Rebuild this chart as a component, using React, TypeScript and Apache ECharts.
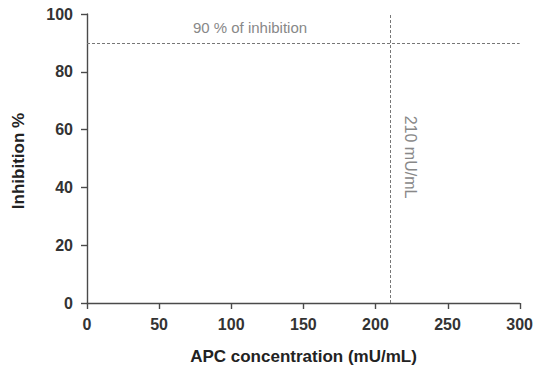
import React, { useEffect, useRef } from "react";
import * as echarts from "echarts";

const xTicks = [0, 50, 100, 150, 200, 250, 300];
const yTicks = [0, 20, 40, 60, 80, 100];
const thresholdY = 90;
const thresholdX = 210;
const thresholdYLabel = "90 % of inhibition";
const thresholdXLabel = "210 mU/mL";
const xTitle = "APC concentration (mU/mL)";
const yTitle = "Inhibition %";

const GRID = { left: 87, right: 16, top: 14, bottom: 64 };
const W = 536;
const H = 367;

export default function App() {
  const ref = useRef<HTMLDivElement>(null);
  useEffect(() => {
    const chart = echarts.init(ref.current!, null, { renderer: "svg" });
    const font = "Liberation Sans, Arial, sans-serif";
    const label = { color: "#333", fontWeight: "bold", fontSize: 16, fontFamily: font };
    const plotW = W - GRID.left - GRID.right;
    const plotH = H - GRID.top - GRID.bottom;
    const xMax = xTicks[xTicks.length - 1];
    const yMax = yTicks[yTicks.length - 1];
    const px210 = GRID.left + (plotW * thresholdX) / xMax;
    const py90 = GRID.top + plotH * (1 - thresholdY / yMax);
    const lineStyle = { color: "#4a4a4a", width: 1.4 };
    const tickOnly = {
      axisLine: { show: false },
      axisTick: { show: true, length: 6, lineStyle },
      axisLabel: { show: false },
      splitLine: { show: false },
    };
    chart.setOption({
      animation: false,
      grid: [GRID, GRID],
      xAxis: [
        {
          type: "value",
          gridIndex: 0,
          min: xTicks[0],
          max: xMax,
          interval: 50,
          axisLine: { show: true, lineStyle },
          axisTick: { show: false },
          splitLine: { show: false },
          axisLabel: { ...label, margin: 13 },
        },
        {
          type: "value",
          gridIndex: 1,
          min: xTicks[0],
          max: xMax,
          interval: 50,
          ...tickOnly,
        },
      ],
      yAxis: [
        {
          type: "value",
          gridIndex: 0,
          min: yTicks[0],
          max: yMax,
          interval: 20,
          axisLine: { show: true, lineStyle },
          axisTick: { show: false },
          splitLine: { show: false },
          axisLabel: { ...label, margin: 14 },
        },
        {
          type: "value",
          gridIndex: 1,
          min: yTicks[0],
          max: yMax,
          interval: 20,
          ...tickOnly,
        },
      ],
      series: [
        {
          type: "line",
          xAxisIndex: 0,
          yAxisIndex: 0,
          data: [],
          markLine: {
            silent: true,
            symbol: "none",
            label: { show: false },
            lineStyle: { type: [3, 2], color: "#777", width: 1 },
            data: [{ yAxis: thresholdY }, { xAxis: thresholdX }],
          },
        },
        { type: "line", xAxisIndex: 1, yAxisIndex: 1, data: [] },
      ],
      graphic: [
        {
          type: "text",
          x: GRID.left + plotW / 2,
          y: 356,
          style: {
            text: xTitle,
            fill: "#222",
            fontSize: 17,
            fontWeight: "bold",
            fontFamily: font,
            align: "center",
            verticalAlign: "middle",
          },
        },
        {
          type: "text",
          x: 18,
          y: 161,
          rotation: Math.PI / 2,
          style: {
            text: yTitle,
            fill: "#222",
            fontSize: 17,
            fontWeight: "bold",
            fontFamily: font,
            align: "center",
            verticalAlign: "middle",
          },
        },
        {
          type: "text",
          x: 250,
          y: py90 - 15,
          style: {
            text: thresholdYLabel,
            fill: "#888",
            fontSize: 15,
            fontFamily: font,
            align: "center",
            verticalAlign: "middle",
          },
        },
        {
          type: "text",
          x: px210 + 20,
          y: 157,
          rotation: -Math.PI / 2,
          style: {
            text: thresholdXLabel,
            fill: "#888",
            fontSize: 16,
            fontFamily: font,
            align: "center",
            verticalAlign: "middle",
          },
        },
      ],
    });
    return () => chart.dispose();
  }, []);
  return (
    <div
      ref={ref}
      style={{ position: "absolute", left: 0, top: 0, width: W, height: H }}
    />
  );
}
